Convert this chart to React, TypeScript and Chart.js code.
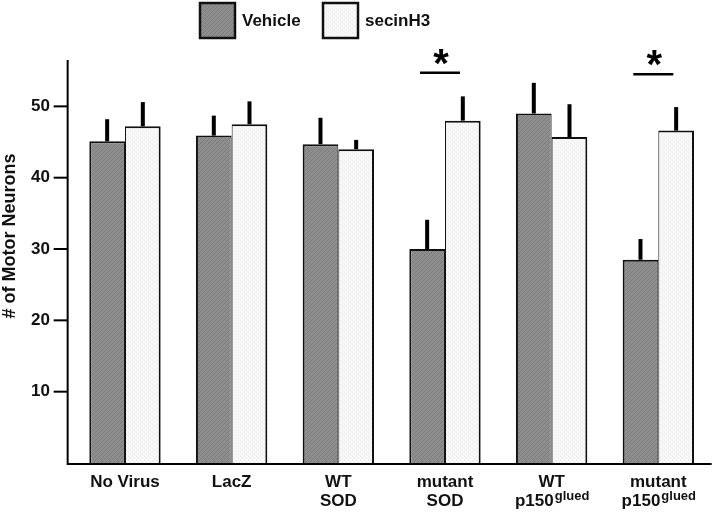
import React, { useEffect, useRef } from 'react';
import { Chart, registerables } from 'chart.js';

Chart.register(...registerables);

const categories = ['No Virus', 'LacZ', 'WT SOD', 'mutant SOD', 'WT p150glued', 'mutant p150glued'];
const labelLines = [['No Virus'], ['LacZ'], ['WT', 'SOD'], ['mutant', 'SOD'], ['WT', 'p150'], ['mutant', 'p150']];
const labelSuperscripts = ['', '', '', '', 'glued', 'glued'];
const seriesNames = ['Vehicle', 'secinH3'];
const vehicleMeans = [45.1, 45.9, 44.7, 30.0, 49.0, 28.5];
const vehicleErrors = [3.1, 2.8, 3.7, 4.1, 4.3, 2.9];
const secinMeans = [47.2, 47.5, 44.0, 48.0, 45.7, 46.6];
const secinErrors = [3.4, 3.2, 1.3, 3.4, 4.6, 3.3];
const significantGroups = [3, 5];
const significanceLevels = [54.7, 54.5];
const yTicks = [10, 20, 30, 40, 50];
const yTitle = '# of Motor Neurons';

const FONT = '"Liberation Sans", Arial, Helvetica, sans-serif';

function makePattern(base: string, ink: string, kind: 'hatch' | 'dots'): CanvasPattern | string {
  const c = document.createElement('canvas');
  c.width = 4;
  c.height = 4;
  const g = c.getContext('2d');
  if (!g) return base;
  g.fillStyle = base;
  g.fillRect(0, 0, 4, 4);
  g.fillStyle = ink;
  if (kind === 'hatch') {
    for (let i = 0; i < 4; i++) g.fillRect(3 - i, i, 1, 1);
  } else {
    g.fillRect(0, 0, 1, 1);
    g.fillRect(2, 2, 1, 1);
  }
  return g.createPattern(c, 'repeat') || base;
}

export default function App() {
  const ref = useRef<HTMLCanvasElement | null>(null);

  useEffect(() => {
    const canvas = ref.current;
    if (!canvas) return;
    const vehFill = makePattern('#8e8e8e', '#7d7d7d', 'hatch');
    const secFill = makePattern('#f7f7f7', '#ebebeb', 'dots');
    const errors = [vehicleErrors, secinErrors];
    const fills = [vehFill, secFill];

    const overlay = {
      id: 'overlay',
      afterDatasetsDraw(chart: any) {
        const ctx = chart.ctx as CanvasRenderingContext2D;
        const ys = chart.scales.y;
        const xs = chart.scales.x;
        const area = chart.chartArea;
        ctx.save();
        // error bars
        ctx.strokeStyle = '#000';
        ctx.lineWidth = 4;
        ctx.lineCap = 'butt';
        chart.data.datasets.forEach((ds: any, di: number) => {
          const meta = chart.getDatasetMeta(di);
          meta.data.forEach((el: any, i: number) => {
            const top = ys.getPixelForValue(ds.data[i] + errors[di][i]);
            ctx.beginPath();
            ctx.moveTo(el.x, el.y);
            ctx.lineTo(el.x, top);
            ctx.stroke();
          });
        });
        // axes
        const axisX = area.left - 4;
        ctx.lineWidth = 2;
        ctx.beginPath();
        ctx.moveTo(axisX, area.top);
        ctx.lineTo(axisX, area.bottom + 1);
        ctx.lineTo(area.right, area.bottom + 1);
        ctx.stroke();
        ys.ticks.forEach((t: any) => {
          const y = ys.getPixelForValue(t.value);
          ctx.beginPath();
          ctx.moveTo(axisX - 14, y);
          ctx.lineTo(axisX, y);
          ctx.stroke();
        });
        // significance
        significantGroups.forEach((gi, k) => {
          const cx = xs.getPixelForValue(gi) - 5;
          const y = ys.getPixelForValue(significanceLevels[k]);
          ctx.lineWidth = 2.5;
          ctx.beginPath();
          ctx.moveTo(cx - 20, y);
          ctx.lineTo(cx + 20, y);
          ctx.stroke();
          ctx.fillStyle = '#000';
          ctx.font = `bold 40px ${FONT}`;
          ctx.textAlign = 'center';
          ctx.textBaseline = 'alphabetic';
          ctx.fillText('*', cx + 1, y + 4);
        });
        // x labels
        ctx.fillStyle = '#111';
        ctx.textBaseline = 'middle';
        labelLines.forEach((lines, i) => {
          const cx = xs.getPixelForValue(i);
          lines.forEach((line, li) => {
            const y = 482 + li * 19;
            const sup = li === lines.length - 1 ? labelSuperscripts[i] : '';
            ctx.font = `bold 17px ${FONT}`;
            if (!sup) {
              ctx.textAlign = 'center';
              ctx.fillText(line, cx, y);
            } else {
              const wb = ctx.measureText(line).width;
              ctx.font = `bold 13px ${FONT}`;
              const ws = ctx.measureText(sup).width;
              const start = cx - (wb + ws) / 2;
              ctx.textAlign = 'left';
              ctx.font = `bold 17px ${FONT}`;
              ctx.fillText(line, start, y);
              ctx.font = `bold 13px ${FONT}`;
              ctx.fillText(sup, start + wb + 1, y - 5);
            }
          });
        });
        // y title
        ctx.save();
        ctx.translate(10, 236);
        ctx.rotate(-Math.PI / 2);
        ctx.font = `bold 18px ${FONT}`;
        ctx.textAlign = 'center';
        ctx.textBaseline = 'middle';
        ctx.fillText(yTitle, 0, 0);
        ctx.restore();
        // legend
        const boxes = [200, 323];
        seriesNames.forEach((name, si) => {
          const bx = boxes[si];
          ctx.fillStyle = fills[si] as any;
          ctx.fillRect(bx, 3, 35, 35);
          ctx.lineWidth = 2.5;
          ctx.strokeStyle = '#111';
          ctx.strokeRect(bx, 3, 35, 35);
          ctx.fillStyle = '#111';
          ctx.font = `bold 17px ${FONT}`;
          ctx.textAlign = 'left';
          ctx.textBaseline = 'middle';
          ctx.fillText(name, bx + 42, 21);
        });
        ctx.restore();
      },
    };

    const chart = new Chart(canvas, {
      type: 'bar',
      data: {
        labels: categories,
        datasets: [
          {
            label: seriesNames[0],
            data: vehicleMeans,
            backgroundColor: vehFill as any,
            borderColor: '#111',
            borderWidth: { top: 2, left: 2, right: 1, bottom: 0 } as any,
            borderSkipped: 'start',
          },
          {
            label: seriesNames[1],
            data: secinMeans,
            backgroundColor: secFill as any,
            borderColor: '#111',
            borderWidth: { top: 2, left: 1, right: 2, bottom: 0 } as any,
            borderSkipped: 'start',
          },
        ],
      },
      options: {
        responsive: false,
        maintainAspectRatio: false,
        animation: false,
        datasets: { bar: { categoryPercentage: 0.669, barPercentage: 1 } },
        layout: { padding: { top: 60, right: 8.35, bottom: 0, left: 0 } },
        plugins: { legend: { display: false }, tooltip: { enabled: false } },
        scales: {
          x: {
            grid: { display: false, drawTicks: false },
            border: { display: false },
            ticks: { display: false },
            afterFit: (s: any) => { s.height = 49; },
          },
          y: {
            min: 0,
            max: 56.5,
            grid: { display: false, drawTicks: false },
            border: { display: false },
            afterBuildTicks: (s: any) => { s.ticks = yTicks.map((v) => ({ value: v })); },
            afterFit: (s: any) => { s.width = 71.65; },
            ticks: {
              padding: 21.65,
              color: '#111',
              font: { family: FONT, size: 17, weight: 'bold' },
            },
          },
        },
      },
      plugins: [overlay],
    });
    return () => chart.destroy();
  }, []);

  return (
    <div style={{ position: 'fixed', left: 0, top: 0, width: 720, height: 512, background: '#fff' }}>
      <canvas ref={ref} width={720} height={512} style={{ display: 'block' }} />
    </div>
  );
}
